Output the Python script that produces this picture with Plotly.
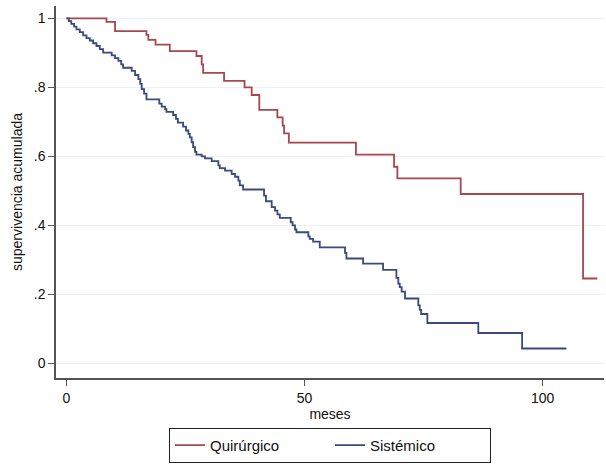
import plotly.graph_objects as go

# Quirúrgico (surgical) Kaplan-Meier steps
quir_t = [0, 8.4, 10.2, 16.8, 17.2, 18.7, 21.7, 27.3, 28.4, 28.7, 33.1, 37.4, 38.9,
          40.5, 44.3, 45.4, 45.7, 46.7, 60.8, 68.8, 69.5, 82.8, 108.5, 111.5]
quir_s = [1.0, 0.990, 0.963, 0.952, 0.938, 0.924, 0.905, 0.891, 0.867, 0.842, 0.819, 0.800, 0.778,
          0.735, 0.713, 0.689, 0.667, 0.640, 0.605, 0.570, 0.536, 0.491, 0.246, 0.246]

# Sistémico (systemic) Kaplan-Meier steps
sist_t = [0, 0.5, 1.0, 1.6, 2.1, 2.8, 3.5, 4.2, 4.9, 5.6, 6.3, 7.0, 7.7, 9.5, 10.2, 10.9,
          11.5, 11.9, 13.7, 14.4, 15.1, 15.5, 15.8, 16.3, 16.8, 19.5, 20.0, 20.7, 21.0, 22.4,
          23.0, 23.4, 24.5, 25.1, 25.6, 25.9, 26.3, 26.6, 27.0, 27.3, 28.4, 29.1, 30.5, 31.9,
          32.2, 33.3, 34.7, 35.4, 36.1, 36.4, 37.1, 41.5, 41.9, 43.1, 43.8, 44.3, 44.8, 47.1,
          47.5, 48.0, 48.3, 50.8, 51.1, 51.8, 53.2, 58.5, 58.8, 62.3, 66.5, 69.3, 69.7, 70.0,
          70.4, 71.1, 73.9, 74.2, 74.5, 75.8, 86.5, 95.7, 105.0]
sist_s = [1.0, 0.992, 0.984, 0.976, 0.968, 0.960, 0.951, 0.943, 0.936, 0.928, 0.920, 0.911,
          0.901, 0.893, 0.885, 0.877, 0.867, 0.857, 0.848, 0.836, 0.824, 0.810, 0.795, 0.782,
          0.765, 0.753, 0.744, 0.737, 0.729, 0.720, 0.709, 0.698, 0.686, 0.675, 0.665, 0.655,
          0.641, 0.627, 0.613, 0.605, 0.600, 0.594, 0.586, 0.574, 0.566, 0.559, 0.549, 0.541,
          0.530, 0.516, 0.504, 0.486, 0.470, 0.453, 0.443, 0.432, 0.422, 0.409, 0.400, 0.388,
          0.380, 0.368, 0.361, 0.353, 0.336, 0.320, 0.304, 0.289, 0.271, 0.248, 0.231, 0.221,
          0.208, 0.188, 0.168, 0.155, 0.143, 0.117, 0.088, 0.043, 0.043]

y_tickvals = [0, 0.2, 0.4, 0.6, 0.8, 1]
y_ticktext = ["0", ".2", ".4", ".6", ".8", "1"]
x_tickvals = [0, 50, 100]

FONT = "Liberation Sans, Arial, sans-serif"
RED = "#A8464D"
BLUE = "#3A4A7C"

fig = go.Figure()
fig.add_trace(go.Scatter(x=quir_t, y=quir_s, mode="lines", line_shape="hv",
                         line=dict(color=RED, width=1.8), name="Quirúrgico"))
fig.add_trace(go.Scatter(x=sist_t, y=sist_s, mode="lines", line_shape="hv",
                         line=dict(color=BLUE, width=1.8), name="Sistémico"))

fig.update_layout(
    width=606, height=467,
    margin=dict(l=56, r=2, t=6, b=89),
    paper_bgcolor="white", plot_bgcolor="white",
    font=dict(family=FONT, size=14, color="#111111"),
    showlegend=True,
    legend=dict(orientation="h", x=0.5, xanchor="center", y=-0.134, yanchor="top",
                bordercolor="#222222", borderwidth=1, font=dict(size=15),
                entrywidth=115, tracegroupgap=0),
)
fig.update_xaxes(range=[-2.2, 112.9], tickvals=x_tickvals, showgrid=False, zeroline=False,
                 showline=True, linecolor="#555555", linewidth=1.5,
                 ticks="outside", ticklen=6, tickcolor="#555555", tickwidth=1.2,
                 title=dict(text="meses", standoff=4, font=dict(size=14)),
                 tickfont=dict(size=14))
fig.update_yaxes(range=[-0.0425, 1.036], tickvals=y_tickvals, ticktext=y_ticktext,
                 showgrid=True, gridcolor="#EAF2F3", gridwidth=1.2, zeroline=False,
                 showline=True, linecolor="#555555", linewidth=1.5,
                 ticks="outside", ticklen=6, tickcolor="#555555", tickwidth=1.2,
                 title=dict(text="supervivencia acumulada", standoff=8, font=dict(size=14)),
                 tickfont=dict(size=14))

fig.write_html("out.html")
